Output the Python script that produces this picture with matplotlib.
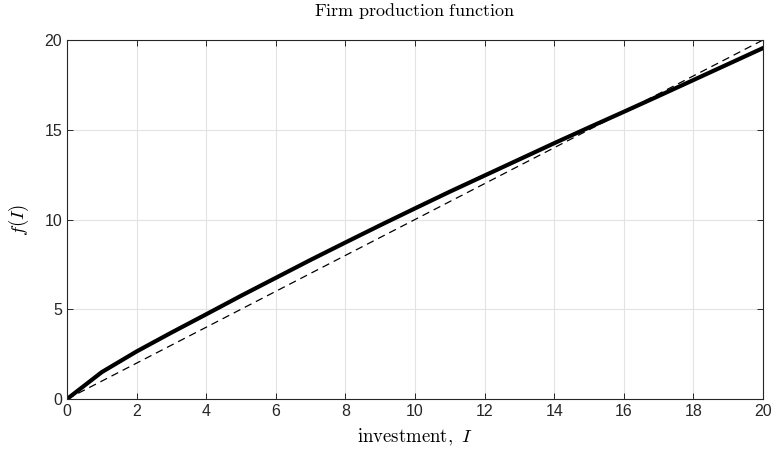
import matplotlib
matplotlib.use("Agg")
import matplotlib.pyplot as plt

investment = [0, 1, 2, 3, 4, 5, 6, 7, 8, 9, 10, 11, 12, 13, 14, 15, 16, 17, 18, 19, 20]
production = [0, 1.5, 2.65, 3.7, 4.72, 5.75, 6.75, 7.75, 8.72, 9.68, 10.62,
              11.55, 12.45, 13.35, 14.25, 15.13, 16.0, 16.88, 17.77, 18.66, 19.55]
diag_x = [0, 20]
diag_y = [0, 20]
xticks = [0, 2, 4, 6, 8, 10, 12, 14, 16, 18, 20]
yticks = [0, 5, 10, 15, 20]

plt.rcParams['mathtext.fontset'] = 'cm'
plt.rcParams['font.family'] = ['Liberation Sans', 'DejaVu Sans']

fig = plt.figure(figsize=(7.75, 4.5), dpi=100)
ax = fig.add_axes([0.0865, 0.1133, 0.898, 0.7978])

ax.plot(diag_x, diag_y, color='black', lw=0.9, ls=(0, (6, 4)))
ax.plot(investment, production, color='black', lw=3)

ax.set_xlim(0, 20)
ax.set_ylim(0, 20)
ax.set_xticks(xticks)
ax.set_yticks(yticks)
ax.grid(True, color='#e3e3e3', lw=0.8)
ax.set_axisbelow(True)
ax.tick_params(direction='in', top=True, right=True, labelsize=11.5,
               colors='#262626', length=4, width=0.7)
for s in ax.spines.values():
    s.set_color('#262626')
    s.set_linewidth(0.8)

ax.set_title(r'$\mathrm{Firm\ production\ function}$', fontsize=13, pad=17)
ax.set_xlabel(r'$\mathrm{investment},\,\,I$', fontsize=13.5, labelpad=6)
ax.set_ylabel(r'$f(I)$', fontsize=13.5, labelpad=10)

fig.savefig('out.png', dpi=100)
